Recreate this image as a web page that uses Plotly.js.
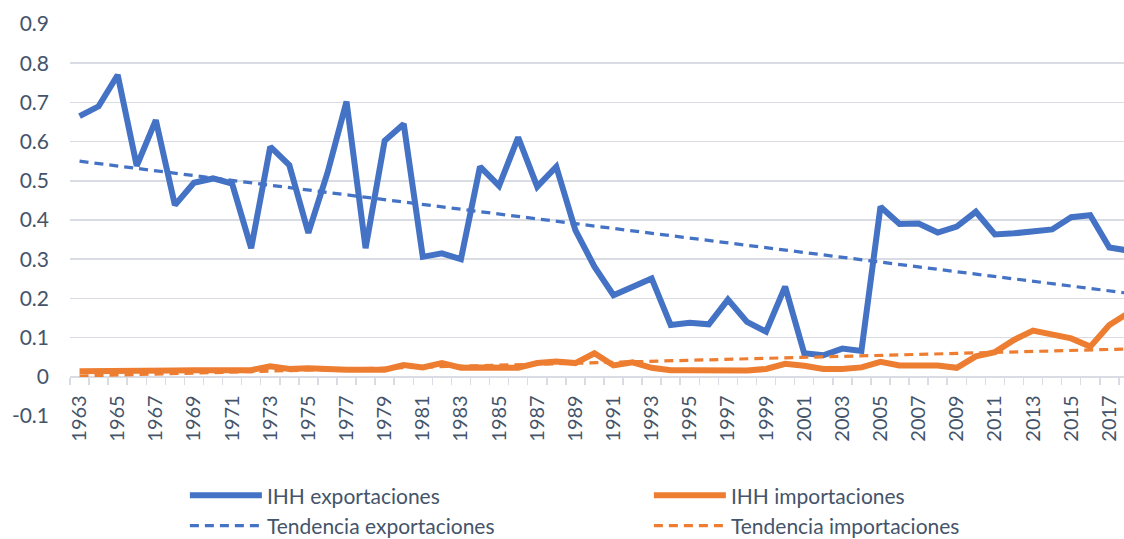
<!DOCTYPE html>
<html>
<head>
<meta charset="utf-8">
<script src="https://cdn.plot.ly/plotly-3.0.1.min.js"></script>
<style>
  html, body { margin: 0; padding: 0; background: #ffffff; }
  #chart { width: 1124px; height: 539px; }
</style>
</head>
<body>
<div id="chart"></div>
<script>
// ---- data ----
const years = [1963,1964,1965,1966,1967,1968,1969,1970,1971,1972,1973,1974,1975,1976,1977,1978,1979,1980,1981,1982,1983,1984,1985,1986,1987,1988,1989,1990,1991,1992,1993,1994,1995,1996,1997,1998,1999,2000,2001,2002,2003,2004,2005,2006,2007,2008,2009,2010,2011,2012,2013,2014,2015,2016,2017,2018];

const ihhExportaciones = [0.665,0.690,0.770,0.538,0.655,0.438,0.495,0.506,0.493,0.328,0.587,0.540,0.367,0.520,0.702,0.328,0.602,0.645,0.306,0.315,0.300,0.536,0.487,0.611,0.485,0.536,0.374,0.281,0.208,0.230,0.251,0.132,0.138,0.134,0.197,0.140,0.115,0.230,0.060,0.055,0.072,0.066,0.434,0.390,0.391,0.368,0.383,0.421,0.363,0.366,0.372,0.376,0.407,0.412,0.330,0.322];

const ihhImportaciones = [0.014,0.014,0.013,0.015,0.015,0.016,0.017,0.016,0.017,0.017,0.027,0.020,0.022,0.019,0.018,0.018,0.018,0.030,0.024,0.035,0.023,0.024,0.024,0.023,0.035,0.039,0.035,0.060,0.029,0.037,0.023,0.017,0.017,0.017,0.015,0.016,0.020,0.033,0.028,0.020,0.020,0.024,0.038,0.029,0.029,0.029,0.023,0.052,0.063,0.094,0.118,0.108,0.098,0.077,0.132,0.163];

// linear trend lines (start / end values)
const trendYears = [1963, 2018];
const tendenciaExportaciones = [0.550, 0.213];
const tendenciaImportaciones = [0.002, 0.071];

const xTickVals = [1963,1965,1967,1969,1971,1973,1975,1977,1979,1981,1983,1985,1987,1989,1991,1993,1995,1997,1999,2001,2003,2005,2007,2009,2011,2013,2015,2017];
const xTickText = xTickVals.map(String);
const yTickVals = [-0.1,0,0.1,0.2,0.3,0.4,0.5,0.6,0.7,0.8,0.9];
const yTickText = ["-0.1","0","0.1","0.2","0.3","0.4","0.5","0.6","0.7","0.8","0.9"];

const seriesNames = ["IHH exportaciones","IHH importaciones","Tendencia exportaciones","Tendencia importaciones"];

// ---- styles ----
const BLUE = "#4472C4";
const ORANGE = "#ED7D31";
const TEXT = "#44546A";
const GRID = "#D9DDE3";
const FONT = "Lato, 'Open Sans', sans-serif";

const traces = [
  {x: years, y: ihhExportaciones, name: seriesNames[0], type: "scatter", mode: "lines",
   line: {color: BLUE, width: 6}},
  {x: years, y: ihhImportaciones, name: seriesNames[1], type: "scatter", mode: "lines",
   line: {color: ORANGE, width: 6}},
  {x: trendYears, y: tendenciaExportaciones, name: seriesNames[2], type: "scatter", mode: "lines",
   line: {color: BLUE, width: 3.2, dash: "9px,6px"}},
  {x: trendYears, y: tendenciaImportaciones, name: seriesNames[3], type: "scatter", mode: "lines",
   line: {color: ORANGE, width: 3.2, dash: "9px,6px"}}
];

const layout = {
  width: 1124, height: 539,
  margin: {l: 70, r: 0, t: 24, b: 123, pad: 0, autoexpand: false},
  paper_bgcolor: "#ffffff", plot_bgcolor: "#ffffff",
  font: {family: FONT, size: 20, color: TEXT},
  showlegend: true,
  xaxis: {
    type: "linear",
    range: [1962.5, 2017.77],
    tickmode: "array", tickvals: xTickVals, ticktext: xTickText,
    tickangle: -90,
    ticks: "",
    showgrid: false, zeroline: false,
    showline: true, linecolor: GRID, linewidth: 1.5,
    anchor: "free", position: 0.1,
    ticklabelstandoff: 9,
    tickfont: {family: FONT, size: 20, color: TEXT},
    minor: {tick0: 1962.5, dtick: 1, ticks: "outside", ticklen: 7, tickcolor: GRID, tickwidth: 1.5, showgrid: false}
  },
  yaxis: {
    range: [-0.1, 0.9],
    tickmode: "array", tickvals: yTickVals, ticktext: yTickText,
    ticks: "",
    showgrid: true, gridcolor: GRID, gridwidth: 1.5,
    zeroline: false, showline: false,
    ticklabelstandoff: 20,
    tickfont: {family: FONT, size: 21, color: TEXT}
  },
  legend: {
    orientation: "h",
    x: 0.109, xanchor: "left",
    y: -0.151, yanchor: "top",
    itemwidth: 72,
    entrywidth: 377, entrywidthmode: "pixels",
    font: {family: FONT, size: 21, color: TEXT},
    bgcolor: "rgba(0,0,0,0)", borderwidth: 0,
    traceorder: "normal"
  }
};

Plotly.newPlot("chart", traces, layout, {displayModeBar: false, staticPlot: true});
</script>
</body>
</html>
